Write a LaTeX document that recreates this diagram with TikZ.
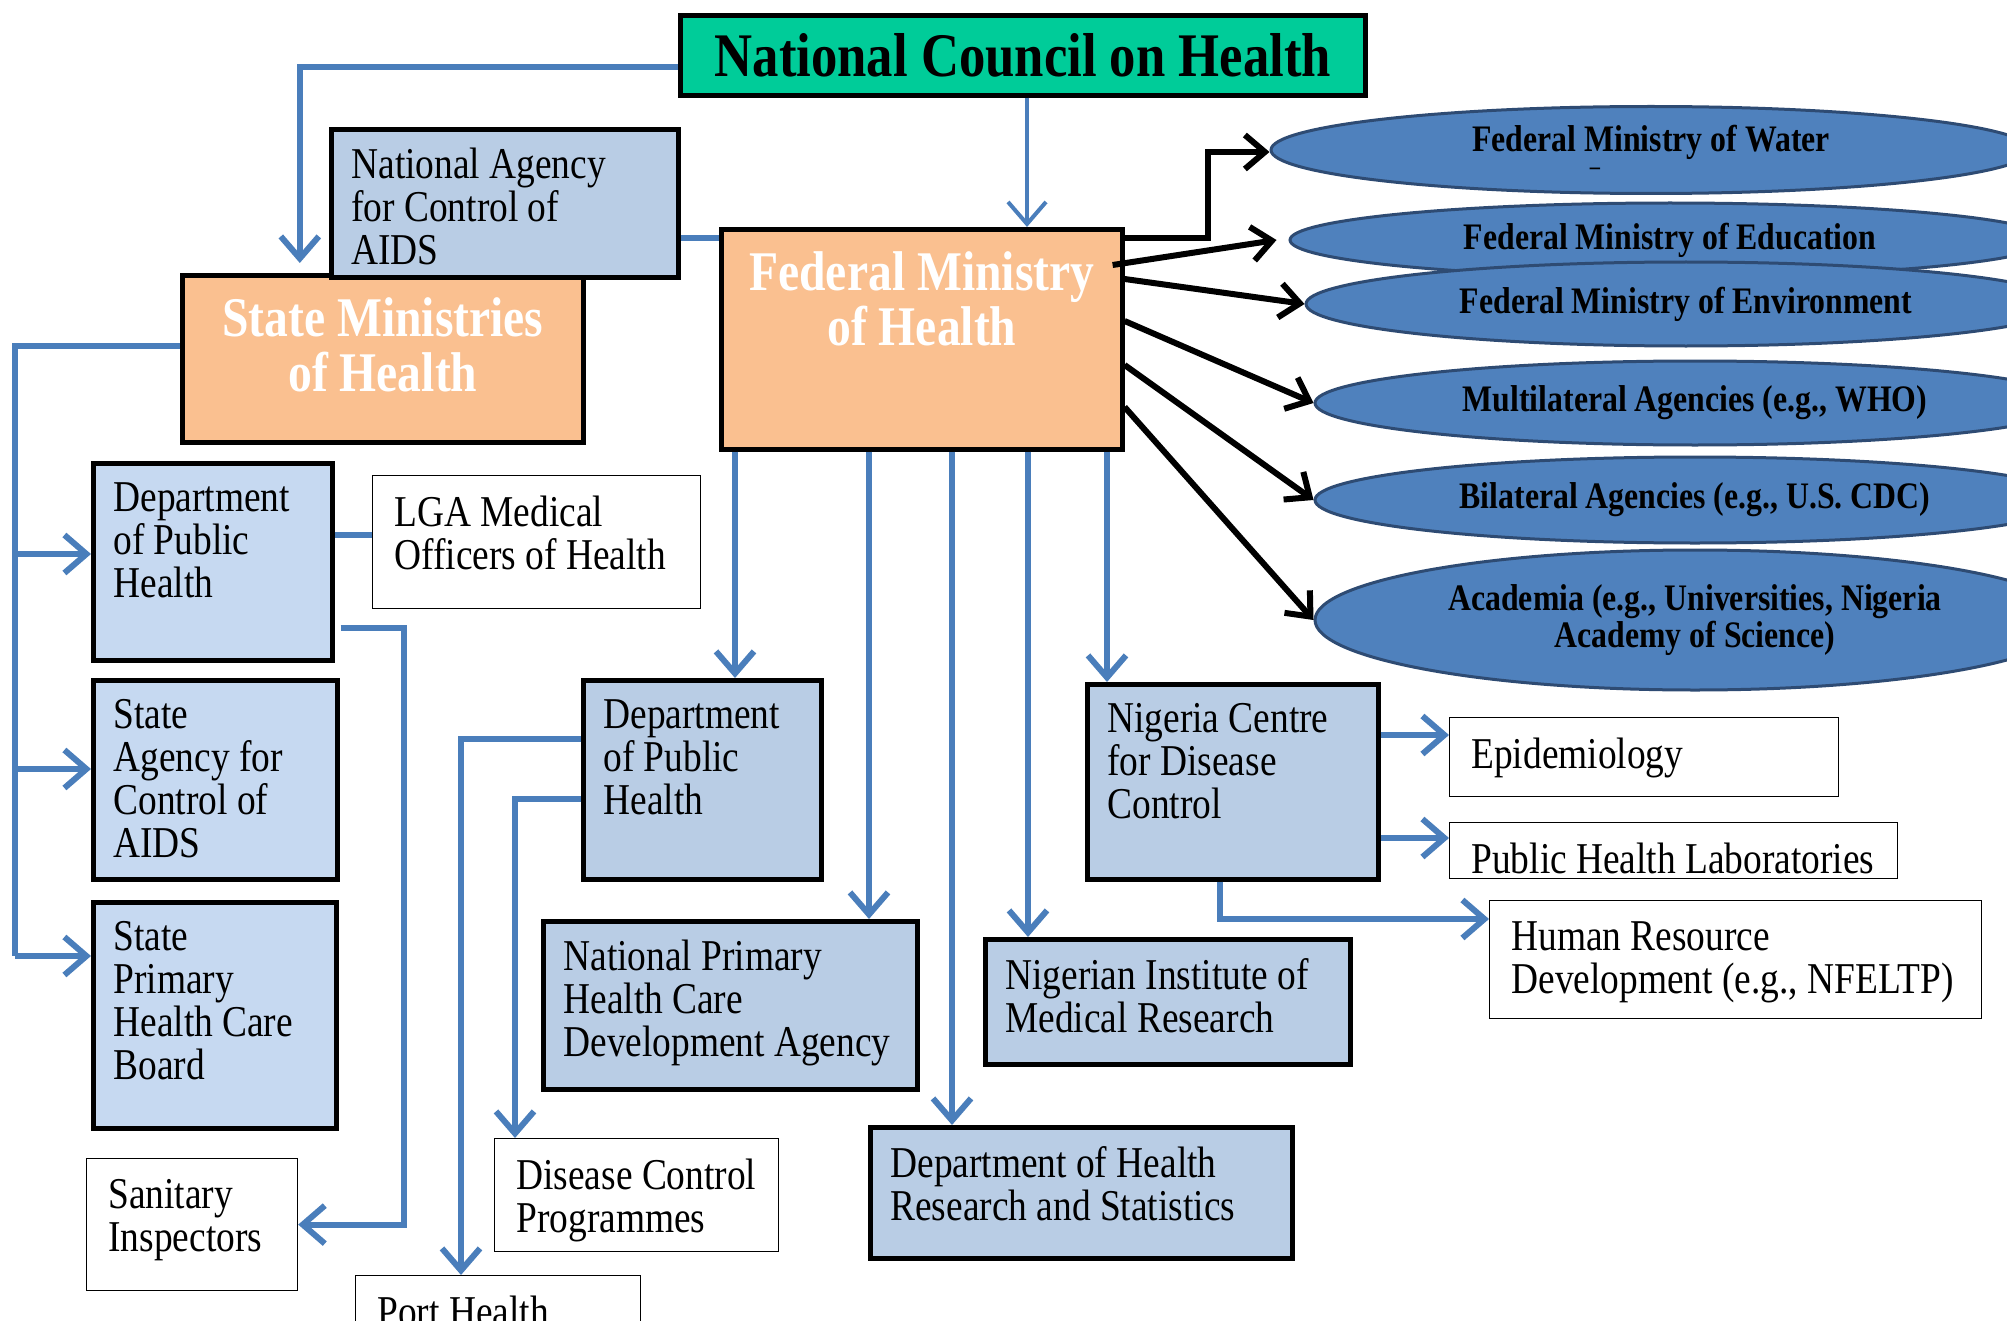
\documentclass[tikz,border=0pt]{standalone}
\usepackage{fontspec}
\setmainfont{Liberation Serif}[FakeStretch=0.85]
\usetikzlibrary{arrows.meta,shapes.geometric}

\definecolor{council}{HTML}{00CC99}
\definecolor{peach}{HTML}{FAC090}
\definecolor{stateblue}{HTML}{C6D9F1}
\definecolor{fedblue}{HTML}{B9CDE5}
\definecolor{partnerfill}{HTML}{4F81BD}
\definecolor{partnerline}{HTML}{2E4B73}
\definecolor{linkblue}{HTML}{4A7EBB}

\newcommand\unitfont{\fontsize{22}{21.5}\selectfont}
\newcommand\ministryfont{\bfseries\fontsize{28}{27.5}\selectfont}
\newcommand\partnerfont{\bfseries\fontsize{18.7}{18.5}\selectfont}

\tikzset{
  solidbox/.style={draw, anchor=north west, inner sep=0pt, line width=2.3pt},
  statebox/.style={solidbox, fill=stateblue},
  fedbox/.style={solidbox, fill=fedblue},
  ministry/.style={solidbox, fill=peach},
  office/.style={draw, anchor=north west, inner sep=0pt, line width=0.6pt, fill=white},
  boxtext/.style={anchor=north west, inner sep=0pt, align=left, xshift=11pt, yshift=-10.5pt, font=\unitfont},
  headtext/.style={anchor=north, inner sep=0pt, align=center, yshift=-12pt, text=white, font=\ministryfont},
  partner/.style={ellipse, draw=partnerline, fill=partnerfill, line width=1.5pt, inner sep=0pt, minimum width=380pt, align=center, font=\partnerfont},
  link/.style={draw=linkblue, line width=3pt},
  barb/.style={-{Straight Barb[length=11pt,width=19pt]}},
  outarrow/.style={draw=black, line width=3pt, -{Straight Barb[length=10pt,width=17pt]}},
}

\begin{document}
\begin{tikzpicture}[x=0.5pt,y=-0.5pt]
  \useasboundingbox (0,0) rectangle (2007,1321);
  \clip (0,0) rectangle (2007,1321);

  \node[solidbox, fill=council, minimum width=342.5pt, minimum height=40pt,
        font=\bfseries\fontsize{31}{31}\selectfont] (nch) at (678,13) {National Council on Health};

  \node[ministry, minimum width=200.5pt, minimum height=83.5pt,
        label={[headtext]north:{State Ministries\\of Health}}] (smoh) at (180,273) {};
  \node[fedbox, minimum width=173.5pt, minimum height=74pt,
        label={[boxtext]north west:{National Agency\\for Control of\\AIDS}}] (naca) at (329,127) {};
  \node[ministry, minimum width=200.5pt, minimum height=110pt,
        label={[headtext]north:{Federal Ministry\\of Health}}] (fmoh) at (719,227) {};

  % state level
  \node[statebox, minimum width=119.5pt, minimum height=98.5pt,
        label={[boxtext]north west:{Department\\of Public\\Health}}] (dphl) at (91,461) {};
  \node[statebox, minimum width=122pt, minimum height=99.5pt,
        label={[boxtext]north west:{State\\Agency for\\Control of\\AIDS}}] (saca) at (91,678) {};
  \node[statebox, minimum width=121.5pt, minimum height=113pt,
        label={[boxtext]north west:{State\\Primary\\Health Care\\Board}}] (sphcb) at (91,900) {};
  \node[office, minimum width=164pt, minimum height=66.5pt,
        label={[boxtext]north west:{LGA Medical\\Officers of Health}}] (lga) at (372,475) {};
  \node[office, minimum width=105.5pt, minimum height=66pt,
        label={[boxtext]north west:{Sanitary\\Inspectors}}] (san) at (86,1158) {};

  % federal level
  \node[fedbox, minimum width=119pt, minimum height=99.5pt,
        label={[boxtext]north west:{Department\\of Public\\Health}}] (dphm) at (581,678) {};
  \node[fedbox, minimum width=187pt, minimum height=84pt,
        label={[boxtext]north west:{National Primary\\Health Care\\Development Agency}}] (nphc) at (541,919) {};
  \node[office, minimum width=142pt, minimum height=56.5pt,
        label={[boxtext]north west:{Disease Control\\Programmes}}] (dcp) at (494,1138) {};
  \node[office, minimum width=142.5pt, minimum height=40pt,
        label={[boxtext]north west:{Port Health}}] (port) at (355,1275) {};
  \node[fedbox, minimum width=211pt, minimum height=65.5pt,
        label={[boxtext]north west:{Department of Health\\Research and Statistics}}] (dhrs) at (868,1125) {};
  \node[fedbox, minimum width=182.5pt, minimum height=62.5pt,
        label={[boxtext]north west:{Nigerian Institute of\\Medical Research}}] (nimr) at (983,937) {};
  \node[fedbox, minimum width=145.5pt, minimum height=97.5pt,
        label={[boxtext]north west:{Nigeria Centre\\for Disease\\Control}}] (ncdc) at (1085,682) {};
  \node[office, minimum width=194.5pt, minimum height=39.5pt,
        label={[boxtext]north west:{Epidemiology}}] (epi) at (1449,717) {};
  \node[office, minimum width=224pt, minimum height=28pt,
        label={[boxtext]north west:{Public Health Laboratories}}] (phl) at (1449,822) {};
  \node[office, minimum width=246pt, minimum height=59pt,
        label={[boxtext]north west:{Human Resource\\Development (e.g., NFELTP)}}] (hrd) at (1489,900) {};

  % partners
  \node[partner, minimum height=43.5pt] (water) at (1651,150)
    {Federal Ministry of Water\\[-7pt]{\fontsize{12}{12}\selectfont\hspace*{-56pt}--}};
  \node[partner, minimum height=37pt] (edu) at (1670,240) {Federal Ministry of Education};
  \node[partner, minimum height=42pt] (env) at (1686,304) {Federal Ministry of Environment};
  \node[partner, minimum height=42pt] (multi) at (1695,403) {Multilateral Agencies (e.g., WHO)};
  \node[partner, minimum height=43pt] (bi) at (1695,500) {Bilateral Agencies (e.g., U.S. CDC)};
  \node[partner, minimum height=70pt] (aca) at (1695,620)
    {Academia (e.g., Universities, Nigeria\\Academy of Science)};

  \draw[link,barb] (nch.west |- 0,67) -| ([xshift=-41.5pt,yshift=5pt]smoh.north);
  \draw[link,line width=2pt,barb] (nch.south -| 1027,0) -- (fmoh.north -| 1027,0);
  \draw[link] (naca.east |- 0,238) -- (fmoh.west |- 0,238);

  \coordinate (bus) at (15,346);
  \draw[link] (smoh.west |- bus) -- (bus) -- (bus |- 0,956);
  \draw[link,barb] (bus |- 0,554) -- (dphl.west |- 0,554);
  \draw[link,barb] (bus |- 0,769) -- (saca.west |- 0,769);
  \draw[link,barb] (bus |- 0,956) -- (sphcb.west |- 0,956);
  \draw[link] (dphl.east |- 0,535) -- (lga.west |- 0,535);
  \draw[link,barb] ([xshift=3pt]dphl.east |- 0,628) -- ++(63,0) |- (san.east);

  \foreach \x/\n in {735/dphm, 869/nphc, 952/dhrs, 1028/nimr, 1107/ncdc}
    \draw[link,barb] (fmoh.south -| \x,0) -- (\n.north -| \x,0);

  \draw[link,barb] (dphm.west |- 0,739) -| (port.north -| 461,0);
  \draw[link,barb] (dphm.west |- 0,799) -| (dcp.north -| 515,0);

  \draw[link,barb] (ncdc.east |- 0,735) -- (epi.west |- 0,735);
  \draw[link,barb] (ncdc.east |- 0,838) -- (phl.west |- 0,838);
  \draw[link,barb] (ncdc.south -| 1220,0) |- (hrd.west |- 0,919);

  \draw[outarrow] (fmoh.east |- 0,238) -- ++(83,0) |- ([yshift=-1pt]water.west);
  \draw[outarrow] ([xshift=-6pt]fmoh.east |- 0,265) -- ([xshift=-6pt]edu.west);
  \foreach \y/\n in {279/env, 321/multi, 365/bi, 407/aca}
    \draw[outarrow] (fmoh.east |- 0,\y) -- (\n.west);
\end{tikzpicture}
\end{document}
